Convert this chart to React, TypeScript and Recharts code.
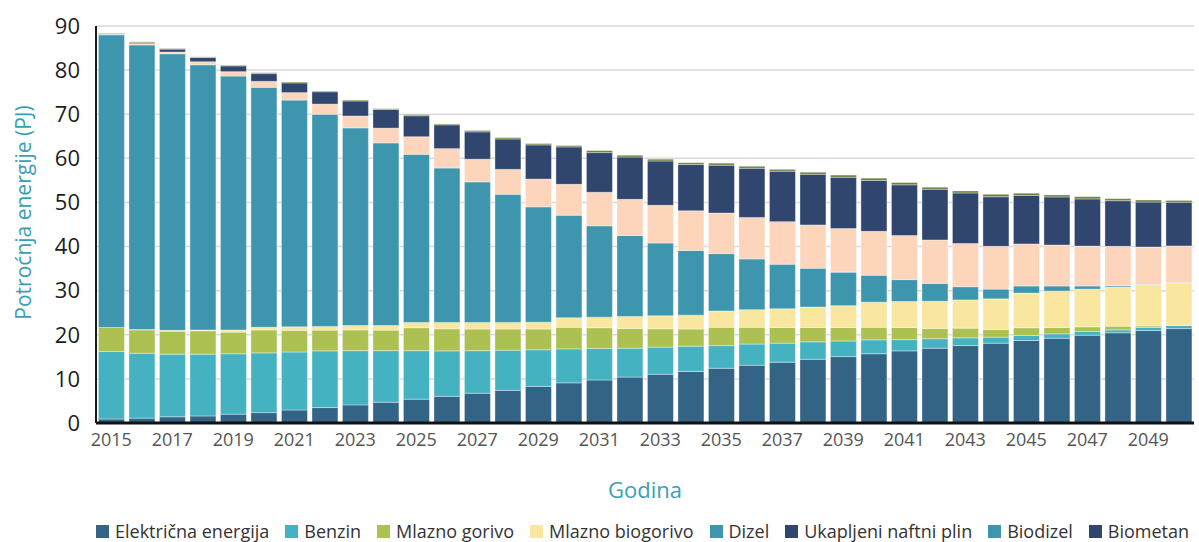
import React from 'react';
import { BarChart, Bar, XAxis, YAxis, CartesianGrid, Legend, Label } from 'recharts';

const years = [
  '2015', '2016', '2017', '2018', '2019', '2020', '2021', '2022', '2023', '2024', '2025', '2026',
  '2027', '2028', '2029', '2030', '2031', '2032', '2033', '2034', '2035', '2036', '2037', '2038',
  '2039', '2040', '2041', '2042', '2043', '2044', '2045', '2046', '2047', '2048', '2049', '2050',
];

const elektricna = [
  0.9, 1.1, 1.4, 1.6, 2.0, 2.35, 2.95, 3.5, 4.1, 4.7, 5.4, 6.05,
  6.75, 7.4, 8.3, 9.1, 9.75, 10.4, 11.05, 11.7, 12.4, 13.1, 13.8, 14.45,
  15.05, 15.7, 16.35, 16.95, 17.55, 18.1, 18.7, 19.2, 19.9, 20.45, 20.95, 21.4,
];
const benzin = [
  15.3, 14.7, 14.2, 14.0, 13.7, 13.55, 13.15, 12.85, 12.3, 11.7, 11.0, 10.3,
  9.65, 9.1, 8.3, 7.7, 7.15, 6.55, 6.15, 5.7, 5.15, 4.8, 4.3, 3.95,
  3.55, 3.15, 2.55, 2.15, 1.75, 1.35, 1.15, 1.0, 0.85, 0.65, 0.7, 0.7,
];
const mlaznoGorivo = [
  5.45, 5.3, 5.2, 5.3, 4.9, 5.2, 4.9, 4.7, 4.7, 4.65, 5.2, 5.0,
  4.9, 4.8, 4.7, 4.9, 4.7, 4.45, 4.15, 3.9, 4.15, 3.8, 3.55, 3.25,
  3.05, 2.85, 2.75, 2.3, 2.2, 1.75, 1.75, 1.45, 1.05, 0.85, 0.35, 0.05,
];
const mlaznoBiogorivo = [
  0, 0.1, 0.2, 0.2, 0.5, 0.6, 0.8, 0.85, 1.0, 1.05, 1.2, 1.45,
  1.5, 1.5, 1.55, 2.15, 2.4, 2.75, 2.95, 3.15, 3.7, 4.0, 4.25, 4.65,
  4.95, 5.7, 5.9, 6.2, 6.4, 6.95, 7.85, 8.25, 8.55, 8.85, 9.25, 9.6,
];
const dizel = [
  66.35, 64.5, 62.7, 60.1, 57.55, 54.4, 51.4, 48.1, 44.8, 41.4, 38.1, 35.0,
  31.85, 29.05, 26.15, 23.25, 20.7, 18.35, 16.5, 14.65, 13.0, 11.5, 10.1, 8.8,
  7.6, 6.1, 4.95, 4.05, 3.0, 2.2, 1.6, 1.15, 0.7, 0.3, 0.1, 0.1,
];
const biodizel = [
  0.15, 0.3, 0.4, 0.7, 1.0, 1.35, 1.7, 2.3, 2.7, 3.35, 4.0, 4.4,
  5.15, 5.65, 6.3, 7.0, 7.6, 8.2, 8.55, 9.0, 9.2, 9.4, 9.65, 9.8,
  9.9, 9.95, 10.0, 9.85, 9.8, 9.7, 9.55, 9.3, 9.05, 8.95, 8.55, 8.3,
];
const ukapljeniPlin = [
  0.1, 0.2, 0.65, 0.95, 1.3, 1.75, 2.2, 2.8, 3.4, 4.25, 4.75, 5.4,
  6.2, 6.9, 7.75, 8.5, 9.0, 9.6, 10.05, 10.5, 10.85, 11.15, 11.45, 11.5,
  11.6, 11.55, 11.5, 11.5, 11.45, 11.25, 11.0, 10.9, 10.7, 10.35, 10.2, 9.9,
];
const biometan = [
  0.1, 0.2, 0.15, 0.15, 0.15, 0.2, 0.2, 0.15, 0.2, 0.15, 0.25, 0.2,
  0.3, 0.3, 0.3, 0.3, 0.45, 0.4, 0.4, 0.4, 0.45, 0.45, 0.4, 0.45,
  0.5, 0.5, 0.5, 0.45, 0.45, 0.55, 0.5, 0.45, 0.5, 0.45, 0.45, 0.4,
];

const yTicks = [0, 10, 20, 30, 40, 50, 60, 70, 80, 90];

// stack order bottom -> top
const series = [
  { key: 'elektricna', name: 'Električna energija', color: '#336485' },
  { key: 'benzin', name: 'Benzin', color: '#45b2c2' },
  { key: 'mlaznoGorivo', name: 'Mlazno gorivo', color: '#adc152' },
  { key: 'mlaznoBiogorivo', name: 'Mlazno biogorivo', color: '#f9e79f' },
  { key: 'dizel', name: 'Dizel', color: '#3e96ae' },
  { key: 'biodizel', name: 'Biodizel', color: '#fcd5ba' },
  { key: 'ukapljeniPlin', name: 'Ukapljeni naftni plin', color: '#30466f' },
  { key: 'biometan', name: 'Biometan', color: '#6b7c3e' },
];

// legend as drawn in the original
const legendItems = [
  { name: 'Električna energija', color: '#336485' },
  { name: 'Benzin', color: '#45b2c2' },
  { name: 'Mlazno gorivo', color: '#adc152' },
  { name: 'Mlazno biogorivo', color: '#f9e79f' },
  { name: 'Dizel', color: '#3e96ae' },
  { name: 'Ukapljeni naftni plin', color: '#30466f' },
  { name: 'Biodizel', color: '#3e96ae' },
  { name: 'Biometan', color: '#30466f' },
];

const data = years.map((year, i) => ({
  year,
  elektricna: elektricna[i],
  benzin: benzin[i],
  mlaznoGorivo: mlaznoGorivo[i],
  mlaznoBiogorivo: mlaznoBiogorivo[i],
  dizel: dizel[i],
  biodizel: biodizel[i],
  ukapljeniPlin: ukapljeniPlin[i],
  biometan: biometan[i],
}));

const FONT = '"Open Sans", sans-serif';

const renderLegend = () => (
  <div
    style={{
      display: 'flex',
      gap: 16,
      paddingLeft: 96,
      height: 22,
      lineHeight: '22px',
      fontFamily: FONT,
      fontSize: 18,
      color: '#333',
      whiteSpace: 'nowrap',
    }}
  >
    {legendItems.map((item) => (
      <span key={item.name} style={{ display: 'flex', alignItems: 'center' }}>
        <span style={{ width: 13, height: 13, background: item.color, marginRight: 6, display: 'inline-block' }} />
        {item.name}
      </span>
    ))}
  </div>
);

const YTitle = (props: any) => {
  const vb = props.viewBox || { x: 0, y: 0, width: 96, height: 400 };
  const cx = vb.x + 23;
  const cy = vb.y + vb.height / 2 - 12;
  return (
    <text
      x={cx}
      y={cy}
      transform={`rotate(-90 ${cx} ${cy})`}
      textAnchor="middle"
      dominantBaseline="central"
      fill="#3a9fb5"
      fontSize={21}
      fontFamily={FONT}
    >
      Potroćnja energije (PJ)
    </text>
  );
};

export default function App() {
  return (
    <div style={{ position: 'absolute', left: 0, top: 0, background: '#fff' }}>
      <BarChart
        width={1199}
        height={542}
        data={data}
        margin={{ top: 26, right: 5, left: 0, bottom: 0 }}
        barCategoryGap="8%"
        style={{ fontFamily: FONT }}
      >
        <CartesianGrid vertical={false} stroke="#d9d9d9" strokeWidth={1.5} />
        <XAxis
          dataKey="year"
          interval={1}
          height={97}
          tickLine={false}
          axisLine={{ stroke: '#111', strokeWidth: 3 }}
          tick={{ fontSize: 18, fill: '#555', fontFamily: FONT }}
          tickMargin={4}
        >
          <Label value="Godina" position="insideBottom" offset={22} fill="#3a9fb5" fontSize={22} fontFamily={FONT} />
        </XAxis>
        <YAxis
          width={96}
          domain={[0, 90]}
          ticks={yTicks}
          tickLine={false}
          tickSize={0}
          tickMargin={16}
          axisLine={{ stroke: '#1a1a1a', strokeWidth: 2 }}
          tick={{ fontSize: 22, fill: '#1d1d1d', fontFamily: FONT, fontWeight: 500 }}
        >
          <Label content={<YTitle />} />
        </YAxis>
        <Legend verticalAlign="bottom" content={renderLegend} />
        {series.map((s) => (
          <Bar
            key={s.key}
            dataKey={s.key}
            name={s.name}
            stackId="a"
            fill={s.color}
            stroke="#ffffff"
            strokeOpacity={0.45}
            strokeWidth={0.8}
            isAnimationActive={false}
          />
        ))}
      </BarChart>
    </div>
  );
}
